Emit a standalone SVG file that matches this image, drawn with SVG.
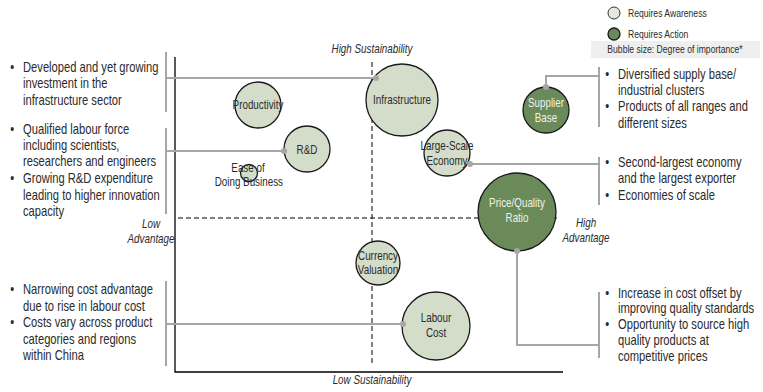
<svg xmlns="http://www.w3.org/2000/svg" width="763" height="392" viewBox="0 0 763 392">
  <style>
    text { font-family: "Liberation Sans", Arial, sans-serif; fill: #2b2b2b; }
    .body text { font-size: 14px; }
    .lbl text { font-size: 12px; text-anchor: middle; }
    .lbl-dark text { font-size: 12px; text-anchor: middle; fill: #eef2e8; }
    .axis-lbl text { font-size: 12px; font-style: italic; text-anchor: middle; }
    .legend text { font-size: 10.5px; }
    .aware { fill: #d4ddc9; stroke: #1a1a1a; stroke-width: 1.3; }
    .action { fill: #6b8a5a; stroke: #1a1a1a; stroke-width: 1.3; }
    .axis { stroke: #000000; stroke-width: 1.3; fill: none; }
    .dash { stroke: #000000; stroke-width: 1; stroke-dasharray: 5 3; fill: none; }
    .bracket { stroke: #a6a6a6; stroke-width: 2; fill: none; }
    .link { stroke: #a6a6a6; stroke-width: 2; fill: none; }
    .dot { fill: #a6a6a6; }
  </style>
  <!-- all text is set in a narrow face: Liberation Sans squeezed horizontally -->

  <!-- legend -->
  <g id="legend">
    <circle cx="614" cy="13" r="6" fill="#e3e9dc" stroke="#333" stroke-width="1"/>
    <circle cx="614" cy="34" r="6" class="action"/>
    <rect x="591" y="41" width="169" height="17" fill="#efefef"/>
    <g class="legend" transform="translate(628 0) scale(0.82 1)">
      <text x="0" y="17">Requires Awareness</text>
      <text x="0" y="38">Requires Action</text>
    </g>
    <g class="legend" transform="translate(675 0) scale(0.82 1)">
      <text x="0" y="53" text-anchor="middle">Bubble size: Degree of importance*</text>
    </g>
  </g>

  <!-- quadrant axes -->
  <g id="axes">
    <polyline class="axis" points="175,57 175,372 563,372"/>
    <line class="dash" x1="178" y1="218" x2="557" y2="218"/>
    <line class="dash" x1="372" y1="62" x2="372" y2="366"/>
    <g class="axis-lbl" transform="translate(372 0) scale(0.82 1)">
      <text x="0" y="53">High Sustainability</text>
      <text x="0" y="384">Low Sustainability</text>
    </g>
    <g class="axis-lbl" transform="translate(151 0) scale(0.82 1)">
      <text x="0" y="228">Low</text>
      <text x="0" y="243">Advantage</text>
    </g>
    <g class="axis-lbl" transform="translate(586 0) scale(0.82 1)">
      <text x="0" y="227">High</text>
      <text x="0" y="242">Advantage</text>
    </g>
  </g>

  <!-- bubbles -->
  <g id="productivity">
    <circle class="aware" cx="258" cy="105" r="23"/>
    <g class="lbl" transform="translate(258 0) scale(0.82 1)"><text x="0" y="109">Productivity</text></g>
  </g>
  <g id="infrastructure">
    <circle class="aware" cx="402" cy="100" r="36"/>
    <g class="lbl" transform="translate(402 0) scale(0.82 1)"><text x="0" y="104">Infrastructure</text></g>
  </g>
  <g id="rnd">
    <circle class="aware" cx="307" cy="149" r="23"/>
    <g class="lbl" transform="translate(307 0) scale(0.82 1)"><text x="0" y="154">R&amp;D</text></g>
  </g>
  <g id="ease-of-doing-business">
    <circle class="aware" cx="249" cy="173" r="8.5"/>
    <g class="lbl" transform="translate(248 0) scale(0.82 1)">
      <text x="0" y="172">Ease of</text>
      <text x="1" y="186">Doing Business</text>
    </g>
  </g>
  <g id="large-scale-economy">
    <circle class="aware" cx="447" cy="153" r="23"/>
    <g class="lbl" transform="translate(447 0) scale(0.82 1)">
      <text x="0" y="150">Large-Scale</text>
      <text x="0" y="165">Economy</text>
    </g>
  </g>
  <g id="supplier-base">
    <circle class="action" cx="546" cy="110" r="23"/>
    <g class="lbl-dark" transform="translate(546 0) scale(0.82 1)">
      <text x="0" y="107">Supplier</text>
      <text x="0" y="122">Base</text>
    </g>
  </g>
  <g id="price-quality-ratio">
    <circle class="action" cx="517" cy="212" r="39"/>
    <g class="lbl-dark" transform="translate(517 0) scale(0.82 1)">
      <text x="0" y="207">Price/Quality</text>
      <text x="0" y="222">Ratio</text>
    </g>
  </g>
  <g id="currency-valuation">
    <circle class="aware" cx="378" cy="263" r="22"/>
    <g class="lbl" transform="translate(378 0) scale(0.82 1)">
      <text x="0" y="260">Currency</text>
      <text x="0" y="274">Valuation</text>
    </g>
  </g>
  <g id="labour-cost">
    <circle class="aware" cx="436" cy="326" r="34"/>
    <g class="lbl" transform="translate(436 0) scale(0.82 1)">
      <text x="0" y="322">Labour</text>
      <text x="0" y="337">Cost</text>
    </g>
  </g>

  <!-- connectors from the note brackets to the bubbles -->
  <g id="connectors">
    <polyline class="link" points="166,78 376,78"/>
    <circle class="dot" cx="376" cy="78" r="3"/>
    <polyline class="link" points="166,151 284,151"/>
    <circle class="dot" cx="284" cy="151" r="3"/>
    <polyline class="link" points="166,324 403,324"/>
    <circle class="dot" cx="403" cy="324" r="3"/>
    <polyline class="link" points="599,76 546,76 546,87"/>
    <circle class="dot" cx="546" cy="87" r="3"/>
    <polyline class="link" points="599,164 470,164"/>
    <circle class="dot" cx="470" cy="164" r="3"/>
    <polyline class="link" points="517,251 517,345 599,345"/>
    <circle class="dot" cx="517" cy="251" r="3"/>
  </g>

  <!-- left notes -->
  <g id="note-infrastructure">
    <line class="bracket" x1="166" y1="52" x2="166" y2="112"/>
    <g class="body" transform="translate(23 0) scale(0.8 1)">
      <text x="-16" y="72">•</text><text x="0" y="72">Developed and yet growing</text>
      <text x="0" y="88">investment in the</text>
      <text x="0" y="105">infrastructure sector</text>
    </g>
  </g>
  <g id="note-rnd">
    <line class="bracket" x1="166" y1="128" x2="166" y2="214"/>
    <g class="body" transform="translate(23 0) scale(0.8 1)">
      <text x="-16" y="134">•</text><text x="0" y="134">Qualified labour force</text>
      <text x="0" y="150">including scientists,</text>
      <text x="0" y="166">researchers and engineers</text>
      <text x="-16" y="183">•</text><text x="0" y="183">Growing R&amp;D expenditure</text>
      <text x="0" y="200">leading to higher innovation</text>
      <text x="0" y="216">capacity</text>
    </g>
  </g>
  <g id="note-labour">
    <line class="bracket" x1="166" y1="281" x2="166" y2="366"/>
    <g class="body" transform="translate(23 0) scale(0.8 1)">
      <text x="-16" y="294">•</text><text x="0" y="294">Narrowing cost advantage</text>
      <text x="0" y="311">due to rise in labour cost</text>
      <text x="-16" y="327">•</text><text x="0" y="327">Costs vary across product</text>
      <text x="0" y="344">categories and regions</text>
      <text x="0" y="360">within China</text>
    </g>
  </g>

  <!-- right notes -->
  <g id="note-supplier">
    <line class="bracket" x1="599" y1="67" x2="599" y2="127"/>
    <g class="body" transform="translate(618 0) scale(0.8 1)">
      <text x="-16" y="79">•</text><text x="0" y="79">Diversified supply base/</text>
      <text x="0" y="95">industrial clusters</text>
      <text x="-16" y="111">•</text><text x="0" y="111">Products of all ranges and</text>
      <text x="0" y="128">different sizes</text>
    </g>
  </g>
  <g id="note-economy">
    <line class="bracket" x1="599" y1="157" x2="599" y2="205"/>
    <g class="body" transform="translate(618 0) scale(0.8 1)">
      <text x="-16" y="167">•</text><text x="0" y="167">Second-largest economy</text>
      <text x="0" y="183">and the largest exporter</text>
      <text x="-16" y="200">•</text><text x="0" y="200">Economies of scale</text>
    </g>
  </g>
  <g id="note-price-quality">
    <line class="bracket" x1="599" y1="292" x2="599" y2="358"/>
    <g class="body" transform="translate(618 0) scale(0.8 1)">
      <text x="-16" y="298">•</text><text x="0" y="298">Increase in cost offset by</text>
      <text x="0" y="313">improving quality standards</text>
      <text x="-16" y="329">•</text><text x="0" y="329">Opportunity to source high</text>
      <text x="0" y="345">quality products at</text>
      <text x="0" y="361">competitive prices</text>
    </g>
  </g>
</svg>
